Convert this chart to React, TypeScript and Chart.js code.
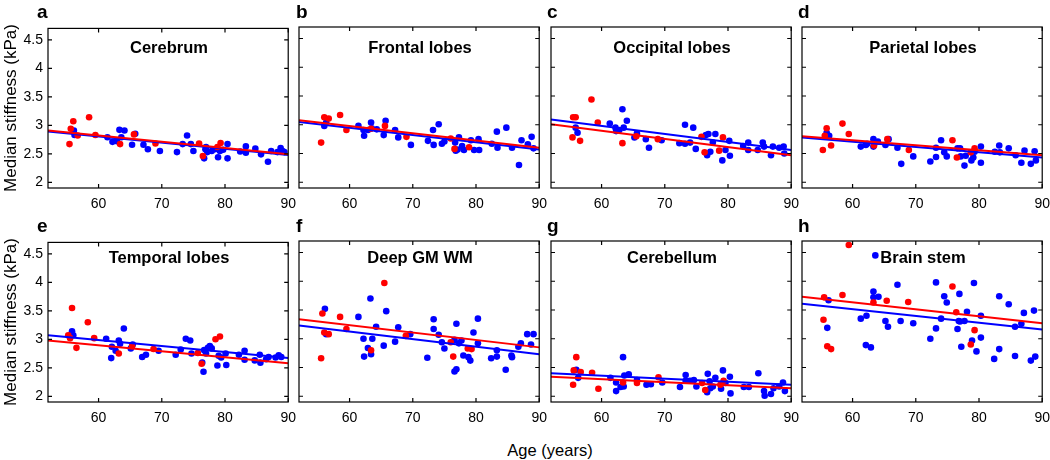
import React, { useEffect, useRef } from 'react';
import { Chart, registerables } from 'chart.js';

Chart.register(...registerables);

const FONT = '"Liberation Sans", Arial, Helvetica, sans-serif';

// Axis settings
const xTickValues = [60, 70, 80, 90];
const yTickValues = [2, 2.5, 3, 3.5, 4, 4.5];
const xMin = 52;
const xMax = 90;
const yMin = 1.9;
const yMax = 4.7;
const fitAges = [52, 90];

const panelLetters = ['a', 'b', 'c', 'd', 'e', 'f', 'g', 'h'];
const panelTitles = ['Cerebrum', 'Frontal lobes', 'Occipital lobes', 'Parietal lobes', 'Temporal lobes', 'Deep GM WM', 'Cerebellum', 'Brain stem'];

// a: Cerebrum
const cerebrumBlue: number[][] = [[56.1,2.91],[56.2,2.83],[61.4,2.79],[62.2,2.71],[62.9,2.72],[63.3,2.92],[64.1,2.91],[63.6,2.79],[65.3,2.66],[65.8,2.85],[67.1,2.66],[67.8,2.58],[69.7,2.55],[72.4,2.53],[73.3,2.67],[74.0,2.82],[74.6,2.67],[75.0,2.55],[76.7,2.42],[77.0,2.62],[77.2,2.53],[77.9,2.55],[78.4,2.58],[79.2,2.55],[79.7,2.57],[80.4,2.67],[80.4,2.42],[82.4,2.54],[83.3,2.63],[83.3,2.52],[84.8,2.59],[85.7,2.49],[86.8,2.36],[87.3,2.55],[88.3,2.53],[88.8,2.60],[89.1,2.55],[89.4,2.53],[76.9,2.58],[78.9,2.44]];
const cerebrumRed: number[][] = [[55.4,2.67],[55.6,2.94],[56.0,3.07],[56.7,2.82],[58.5,3.14],[59.5,2.83],[63.4,2.67],[65.6,2.84],[69.0,2.68],[75.9,2.68],[76.5,2.46],[78.8,2.62],[79.3,2.69]];
const cerebrumBlueFit = [2.89, 2.48];
const cerebrumRedFit = [2.91, 2.49];

// b: Frontal lobes
const frontalBlue: number[][] = [[56.0,2.98],[56.3,3.04],[61.4,2.98],[62.2,2.91],[62.3,2.81],[62.9,2.91],[63.4,3.04],[63.5,2.94],[64.3,2.92],[65.4,2.82],[65.7,3.07],[67.2,2.91],[67.7,2.78],[69.7,2.65],[72.4,2.72],[73.2,2.91],[73.3,2.65],[74.1,3.01],[74.6,2.67],[75.0,2.71],[76.7,2.69],[76.8,2.55],[77.1,2.57],[77.3,2.78],[77.8,2.63],[78.1,2.56],[79.2,2.73],[79.7,2.56],[80.4,2.75],[80.5,2.56],[82.5,2.67],[83.3,2.88],[83.4,2.60],[84.8,2.95],[85.7,2.60],[86.8,2.30],[87.2,2.73],[88.2,2.66],[88.8,2.79],[89.1,2.59]];
const frontalRed: number[][] = [[55.5,2.69],[56.0,3.13],[56.7,3.11],[58.5,3.17],[59.5,2.91],[63.4,2.93],[65.6,2.98],[69.0,2.79],[76.0,2.76],[76.6,2.58],[78.9,2.61]];
const frontalBlueFit = [3.05, 2.57];
const frontalRedFit = [3.08, 2.60];

// c: Occipital lobes
const occipitalBlue: number[][] = [[55.9,2.95],[56.2,2.86],[61.3,3.02],[62.2,2.95],[62.3,2.89],[62.8,2.91],[63.3,3.27],[63.5,2.95],[64.0,3.07],[65.2,2.78],[65.6,2.85],[67.0,2.75],[67.5,2.60],[69.5,2.73],[72.3,2.68],[73.2,3.00],[73.2,2.67],[74.0,2.69],[74.5,2.95],[74.9,2.58],[76.5,2.82],[76.7,2.47],[76.9,2.84],[77.2,2.53],[77.6,2.69],[78.0,2.84],[79.1,2.38],[79.6,2.56],[80.2,2.72],[80.3,2.46],[82.4,2.63],[83.2,2.69],[83.2,2.56],[84.7,2.56],[85.5,2.69],[85.7,2.62],[86.8,2.47],[87.1,2.62],[88.1,2.60],[88.8,2.62],[88.9,2.50]];
const occipitalRed: number[][] = [[55.4,2.78],[55.5,3.13],[55.9,3.13],[56.6,2.72],[58.4,3.44],[59.4,3.04],[63.3,2.68],[65.5,2.80],[68.9,2.75],[75.8,2.79],[76.3,2.52],[78.6,2.55],[79.2,2.78]];
const occipitalBlueFit = [3.09, 2.56];
const occipitalRedFit = [3.01, 2.47];

// d: Parietal lobes
const parietalBlue: number[][] = [[55.9,2.86],[56.3,2.81],[61.3,2.62],[62.1,2.65],[62.3,2.67],[63.3,2.75],[63.3,2.62],[64.0,2.71],[65.2,2.65],[65.7,2.75],[67.1,2.60],[67.7,2.32],[69.6,2.45],[72.3,2.36],[73.2,2.44],[73.2,2.60],[74.0,2.73],[74.5,2.52],[74.9,2.45],[76.6,2.59],[77.0,2.59],[77.1,2.45],[77.7,2.29],[77.9,2.46],[78.8,2.38],[79.1,2.43],[79.3,2.53],[80.3,2.62],[80.3,2.34],[82.5,2.53],[83.2,2.64],[83.3,2.52],[84.7,2.59],[85.8,2.47],[86.7,2.34],[87.2,2.55],[88.2,2.32],[88.8,2.54],[89.0,2.38]];
const parietalRed: number[][] = [[55.3,2.56],[55.6,2.81],[55.9,2.94],[56.6,2.64],[58.4,3.02],[59.4,2.84],[63.4,2.64],[65.5,2.75],[68.9,2.56],[75.8,2.73],[76.5,2.43],[78.7,2.52],[79.3,2.59]];
const parietalBlueFit = [2.78, 2.43];
const parietalRedFit = [2.80, 2.47];

// e: Temporal lobes
const temporalBlue: number[][] = [[55.8,3.14],[56.0,3.07],[61.2,3.01],[62.1,2.87],[62.0,2.67],[62.7,2.80],[63.2,2.98],[63.4,2.92],[64.0,3.19],[65.1,2.84],[65.4,2.91],[66.9,2.69],[67.5,2.73],[69.5,2.80],[72.2,2.73],[73.0,2.82],[73.8,3.01],[74.5,2.98],[74.7,2.75],[76.4,2.59],[76.6,2.43],[76.7,2.81],[77.0,2.75],[77.3,2.85],[77.6,2.88],[77.9,2.84],[78.8,2.54],[79.0,2.71],[79.4,2.68],[80.1,2.75],[80.2,2.55],[82.2,2.73],[83.1,2.80],[83.1,2.64],[84.7,2.63],[85.5,2.73],[85.6,2.59],[86.5,2.65],[86.9,2.69],[88.0,2.68],[88.5,2.72],[88.9,2.69]];
const temporalRed: number[][] = [[55.2,3.07],[55.5,3.02],[55.8,3.55],[56.5,2.85],[58.3,3.30],[59.3,3.02],[63.2,2.75],[65.3,2.88],[68.7,2.83],[75.7,2.76],[76.3,2.57],[78.5,3.00],[79.2,3.05]];
const temporalBlueFit = [3.07, 2.67];
const temporalRedFit = [2.98, 2.58];

// f: Deep GM WM
const deepBlue: number[][] = [[56.1,3.52],[56.3,3.08],[61.4,3.38],[62.2,3.00],[62.3,2.69],[62.9,2.84],[63.3,3.70],[63.4,2.73],[63.6,3.00],[64.2,3.21],[65.4,2.88],[65.8,3.48],[67.2,2.95],[67.7,3.20],[69.6,3.08],[72.3,2.67],[73.3,3.34],[73.3,3.17],[74.1,3.07],[74.6,2.94],[75.0,2.83],[76.6,2.98],[76.6,2.43],[76.9,2.47],[76.9,3.26],[77.3,2.92],[77.7,2.97],[78.0,2.71],[78.8,2.68],[79.1,2.62],[79.6,3.11],[80.3,3.35],[80.3,2.92],[82.4,2.66],[83.3,2.80],[83.3,2.69],[84.7,2.46],[85.6,2.71],[85.7,2.68],[86.7,2.86],[87.1,2.92],[88.1,3.08],[88.7,2.90],[89.1,3.08]];
const deepRed: number[][] = [[55.5,2.66],[55.7,3.44],[56.0,3.11],[56.7,3.08],[58.5,3.38],[59.5,3.17],[63.4,2.80],[65.5,3.97],[68.9,3.05],[76.0,2.94],[76.4,2.69],[78.7,2.83],[79.3,2.82]];
const deepBlueFit = [3.23, 2.73];
const deepRedFit = [3.34, 2.85];

// g: Cerebellum
const cerebellumBlue: number[][] = [[56.0,2.46],[56.3,2.32],[61.4,2.32],[62.3,2.24],[62.3,2.09],[63.0,2.16],[63.4,2.68],[63.5,2.17],[63.6,2.36],[64.3,2.38],[65.6,2.28],[67.1,2.20],[67.8,2.21],[69.6,2.24],[72.4,2.16],[73.3,2.37],[73.3,2.27],[74.0,2.27],[74.6,2.28],[75.0,2.17],[76.7,2.07],[76.8,2.39],[77.1,2.26],[77.2,2.14],[77.6,2.17],[78.0,2.32],[78.9,2.13],[79.2,2.45],[79.6,2.23],[80.3,2.34],[80.4,2.05],[82.5,2.16],[83.3,2.16],[84.8,2.40],[85.7,2.09],[85.8,2.01],[86.8,2.04],[87.2,2.14],[88.1,2.17],[88.7,2.24],[89.0,2.09]];
const cerebellumRed: number[][] = [[55.5,2.20],[55.6,2.45],[56.0,2.68],[56.7,2.42],[58.5,2.41],[59.5,2.13],[63.4,2.24],[65.6,2.23],[69.0,2.33],[75.9,2.23],[76.4,2.11],[78.8,2.20],[79.3,2.27]];
const cerebellumBlueFit = [2.40, 2.20];
const cerebellumRedFit = [2.34, 2.14];

// h: Brain stem
const stemBlue: number[][] = [[56.2,3.67],[56.0,3.19],[61.3,3.35],[62.1,2.89],[62.2,3.40],[62.9,2.85],[63.3,3.82],[63.3,3.72],[63.6,4.45],[64.1,3.73],[65.2,3.31],[65.6,3.21],[67.1,3.94],[67.6,3.31],[69.6,3.27],[72.3,3.00],[73.2,3.18],[73.2,3.98],[74.0,3.35],[74.5,3.74],[74.9,3.63],[76.6,3.17],[76.8,3.31],[76.9,3.78],[77.0,3.30],[77.2,2.86],[77.7,3.31],[78.1,3.47],[78.9,2.97],[79.2,3.97],[79.6,2.78],[80.3,3.40],[80.3,3.02],[82.4,2.65],[83.2,3.74],[83.2,2.82],[84.7,3.60],[85.7,3.21],[85.7,2.70],[86.7,3.26],[87.1,3.45],[88.2,2.62],[88.7,3.49],[88.9,2.69]];
const stemRed: number[][] = [[55.4,3.33],[55.5,3.72],[56.0,2.87],[56.6,2.82],[58.4,3.76],[59.4,4.63],[63.3,3.63],[65.4,3.66],[68.8,3.64],[75.8,3.91],[76.4,3.46],[78.7,2.90],[79.3,3.15]];
const stemBlueFit = [3.61, 3.16];
const stemRedFit = [3.73, 3.27];

const blueSeries = [cerebrumBlue, frontalBlue, occipitalBlue, parietalBlue, temporalBlue, deepBlue, cerebellumBlue, stemBlue];
const redSeries = [cerebrumRed, frontalRed, occipitalRed, parietalRed, temporalRed, deepRed, cerebellumRed, stemRed];
const blueFits = [cerebrumBlueFit, frontalBlueFit, occipitalBlueFit, parietalBlueFit, temporalBlueFit, deepBlueFit, cerebellumBlueFit, stemBlueFit];
const redFits = [cerebrumRedFit, frontalRedFit, occipitalRedFit, parietalRedFit, temporalRedFit, deepRedFit, cerebellumRedFit, stemRedFit];

// Layout (pixels)
const COL_LEFT = [48, 299, 551, 802];
const ROW_TOP = [27, 241];
const PW = 242;
const PH = 161;
const LETTER_X = [37, 296, 547, 798];
const LETTER_Y = [11, 225];
const TITLE_DY = [20, 16];

const BLUE = '#0000ff';
const RED = '#ff0000';

const framePlugin = {
  id: 'frameTicks',
  afterDatasetsDraw(chart: any) {
    const { ctx, chartArea, scales } = chart;
    const { left, right, top, bottom } = chartArea;
    const tl = 4;
    ctx.save();
    ctx.strokeStyle = '#000';
    ctx.lineWidth = 1.2;
    ctx.strokeRect(left, top, right - left, bottom - top);
    ctx.beginPath();
    scales.x.ticks.forEach((t: any) => {
      const px = scales.x.getPixelForValue(t.value);
      ctx.moveTo(px, bottom);
      ctx.lineTo(px, bottom - tl);
      ctx.moveTo(px, top);
      ctx.lineTo(px, top + tl);
    });
    scales.y.ticks.forEach((t: any) => {
      const py = scales.y.getPixelForValue(t.value);
      ctx.moveTo(left, py);
      ctx.lineTo(left + tl, py);
      ctx.moveTo(right, py);
      ctx.lineTo(right - tl, py);
    });
    ctx.stroke();
    ctx.restore();
  },
};

function Panel({ idx }: { idx: number }) {
  const ref = useRef<HTMLCanvasElement>(null);
  const col = idx % 4;
  const row = Math.floor(idx / 4);
  const L = col === 0 ? 48 : 10;
  const R = 14;
  const T = 12;
  const B = 30;
  const left = COL_LEFT[col] - L;
  const top = ROW_TOP[row] - T;
  const w = PW + L + R;
  const h = PH + T + B;

  useEffect(() => {
    const toPts = (arr: number[][]) => arr.map((p) => ({ x: p[0], y: p[1] }));
    const fitPts = (f: number[]) => fitAges.map((x, i) => ({ x, y: f[i] }));
    const chart = new Chart(ref.current as HTMLCanvasElement, {
      type: 'scatter',
      data: {
        datasets: [
          { data: fitPts(redFits[idx]), showLine: true, borderColor: RED, backgroundColor: RED, borderWidth: 2, pointRadius: 0, order: 0 },
          { data: fitPts(blueFits[idx]), showLine: true, borderColor: BLUE, backgroundColor: BLUE, borderWidth: 2, pointRadius: 0, order: 1 },
          { data: toPts(redSeries[idx]), backgroundColor: RED, borderColor: RED, pointRadius: 3.3, pointBorderWidth: 0, order: 2 },
          { data: toPts(blueSeries[idx]), backgroundColor: BLUE, borderColor: BLUE, pointRadius: 3.3, pointBorderWidth: 0, order: 3 },
        ] as any,
      },
      options: {
        responsive: false,
        animation: false,
        devicePixelRatio: 1,
        layout: { autoPadding: false, padding: { left: 0, right: R, top: T, bottom: 0 } },
        plugins: { legend: { display: false }, tooltip: { enabled: false }, title: { display: false } },
        scales: {
          x: {
            type: 'linear',
            min: xMin,
            max: xMax,
            grid: { display: false, drawTicks: false },
            border: { display: false },
            ticks: { color: '#000', font: { family: FONT, size: 14 }, padding: 8, maxRotation: 0, autoSkip: false },
            afterBuildTicks: (s: any) => { s.ticks = xTickValues.map((v) => ({ value: v })); },
            afterFit: (s: any) => { s.height = B; },
          },
          y: {
            type: 'linear',
            min: yMin,
            max: yMax,
            grid: { display: false, drawTicks: false },
            border: { display: false },
            ticks: { display: col === 0, color: '#000', font: { family: FONT, size: 14 }, padding: 5, callback: (v: any) => String(v) },
            afterBuildTicks: (s: any) => { s.ticks = yTickValues.map((v) => ({ value: v })); },
            afterFit: (s: any) => { s.width = L; },
          },
        },
      } as any,
      plugins: [framePlugin],
    });
    return () => chart.destroy();
  }, []);

  return (
    <canvas
      ref={ref}
      width={w}
      height={h}
      style={{ position: 'absolute', left, top, width: w, height: h }}
    />
  );
}

export default function App() {
  const idxs = [0, 1, 2, 3, 4, 5, 6, 7];
  return (
    <div style={{ position: 'absolute', left: 0, top: 0, width: 1050, height: 460, background: '#fff', overflow: 'hidden', fontFamily: FONT, color: '#000' }}>
      {idxs.map((i) => (
        <Panel key={'p' + i} idx={i} />
      ))}
      {idxs.map((i) => {
        const col = i % 4;
        const row = Math.floor(i / 4);
        return (
          <div key={'t' + i} style={{ position: 'absolute', left: COL_LEFT[col] + PW / 2, top: ROW_TOP[row] + TITLE_DY[row], transform: 'translate(-50%,-50%)', fontSize: 16.5, fontWeight: 'bold', lineHeight: 1, whiteSpace: 'nowrap' }}>
            {panelTitles[i]}
          </div>
        );
      })}
      {idxs.map((i) => {
        const col = i % 4;
        const row = Math.floor(i / 4);
        return (
          <div key={'l' + i} style={{ position: 'absolute', left: LETTER_X[col], top: LETTER_Y[row], transform: 'translateY(-50%)', fontSize: 19, fontWeight: 'bold', lineHeight: 1 }}>
            {panelLetters[i]}
          </div>
        );
      })}
      {[0, 1].map((r) => (
        <div key={'y' + r} style={{ position: 'absolute', left: 10, top: ROW_TOP[r] + PH / 2, transform: 'translate(-50%,-50%) rotate(-90deg)', fontSize: 17, lineHeight: 1, whiteSpace: 'nowrap' }}>
          Median stiffness (kPa)
        </div>
      ))}
      <div style={{ position: 'absolute', left: 550, top: 450, transform: 'translate(-50%,-50%)', fontSize: 16.5, lineHeight: 1, whiteSpace: 'nowrap' }}>
        Age (years)
      </div>
    </div>
  );
}
